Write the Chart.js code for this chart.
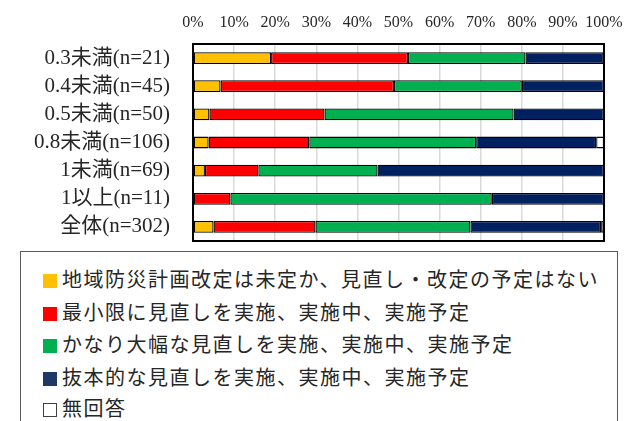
<!DOCTYPE html>
<html lang="ja">
<head>
<meta charset="utf-8">
<title>見直し状況</title>
<script src="https://cdn.jsdelivr.net/npm/chart.js@4/dist/chart.umd.min.js"></script>
<style>
    body { margin: 0; background: #fff; }
    #wrap { position: relative; width: 629px; height: 421px; overflow: hidden; }
    #chart { position: absolute; left: 0; top: 0; }
    #legend {
        position: absolute; left: 20px; top: 251px; width: 598px; height: 200px;
        border: 1.5px solid #595959; box-sizing: border-box;
        font-family: 'Liberation Serif', 'Noto Sans CJK JP', serif;
        font-size: 20px; color: #262626; letter-spacing: 1.5px;
    }
    .item { position: absolute; left: 22px; height: 24px; line-height: 24px; white-space: nowrap; }
    .swatch { display: inline-block; width: 14px; height: 14px; margin-right: 5px; vertical-align: -1px; box-sizing: border-box; }
</style>
</head>
<body>
<div id="wrap">
    <canvas id="chart" width="629" height="246"></canvas>
    <div id="legend"></div>
</div>
<script>
// Categories and series (percent of respondents)
const categories = ['0.3未満(n=21)', '0.4未満(n=45)', '0.5未満(n=50)', '0.8未満(n=106)', '1未満(n=69)', '1以上(n=11)', '全体(n=302)'];
const noPlan = [19.0, 6.7, 4.0, 3.8, 2.9, null, 5.0];
const minimal = [33.3, 42.2, 28.0, 24.5, 13.0, 9.1, 24.8];
const major = [28.6, 31.1, 46.0, 40.6, 29.0, 63.6, 37.7];
const drastic = [19.0, 20.0, 22.0, 29.2, 55.1, 27.3, 31.8];
const noAnswer = [null, null, null, 1.9, null, null, 0.7];

const seriesNames = [
    '地域防災計画改定は未定か、見直し・改定の予定はない',
    '最小限に見直しを実施、実施中、実施予定',
    'かなり大幅な見直しを実施、実施中、実施予定',
    '抜本的な見直しを実施、実施中、実施予定',
    '無回答'
];
const seriesColors = ['#FFC000', '#FF0000', '#00B050', '#002060', '#FFFFFF'];
const legendColors = ['#FFC000', '#FF0000', '#00B050', '#1F3864', '#FFFFFF'];
const xTicks = [0, 10, 20, 30, 40, 50, 60, 70, 80, 90, 100];

const fontFamily = "'Liberation Serif', 'Noto Sans CJK JP', serif";
const seriesData = [noPlan, minimal, major, drastic, noAnswer];

// Border round the plot area
const frame = {
    id: 'frame',
    afterDatasetsDraw(chart) {
        const a = chart.chartArea;
        const ctx = chart.ctx;
        ctx.save();
        ctx.strokeStyle = '#000';
        ctx.lineWidth = 2;
        ctx.strokeRect(a.left, a.top, a.right - a.left, a.bottom - a.top);
        ctx.restore();
    }
};

new Chart(document.getElementById('chart'), {
    type: 'bar',
    data: {
        labels: categories,
        datasets: seriesData.map((d, i) => ({
            label: seriesNames[i],
            data: d,
            backgroundColor: seriesColors[i],
            borderColor: '#000',
            borderWidth: 1.3,
            borderSkipped: false,
            barPercentage: 0.42,
            categoryPercentage: 1
        }))
    },
    options: {
        indexAxis: 'y',
        responsive: false,
        animation: false,
        layout: { padding: { left: 0, right: 25, top: 0, bottom: 5 } },
        plugins: {
            legend: { display: false },
            tooltip: { enabled: false }
        },
        scales: {
            x: {
                position: 'top',
                stacked: true,
                min: 0,
                max: 100,
                afterFit: s => {
                    s.height = 44;
                    s.paddingLeft = 0;
                    s.paddingRight = 0;
                },
                afterBuildTicks: s => { s.ticks = xTicks.map(v => ({ value: v })); },
                grid: { color: '#d9d9d9', lineWidth: 1.5, drawTicks: false },
                border: { display: false },
                ticks: {
                    padding: 12,
                    maxRotation: 0,
                    minRotation: 0,
                    autoSkip: false,
                    color: '#262626',
                    font: { family: fontFamily, size: 16 },
                    callback: v => v + '%'
                }
            },
            y: {
                stacked: true,
                afterFit: s => {
                    s.width = 193;
                    s.paddingTop = 0;
                    s.paddingBottom = 0;
                },
                grid: { display: false },
                border: { display: false },
                ticks: {
                    padding: 15,
                    autoSkip: false,
                    color: '#262626',
                    font: { family: fontFamily, size: 21 }
                }
            }
        }
    },
    plugins: [frame]
});

// Legend box below the chart
const legend = document.getElementById('legend');
const rowTops = [16, 49, 81, 114, 145];
seriesNames.forEach((name, i) => {
    const item = document.createElement('div');
    item.className = 'item';
    item.style.top = rowTops[i] + 'px';
    const border = i === 4 ? '1px solid #404040' : 'none';
    item.innerHTML = `<span class="swatch" style="background:${legendColors[i]};border:${border}"></span>${name}`;
    legend.appendChild(item);
});
</script>
</body>
</html>
